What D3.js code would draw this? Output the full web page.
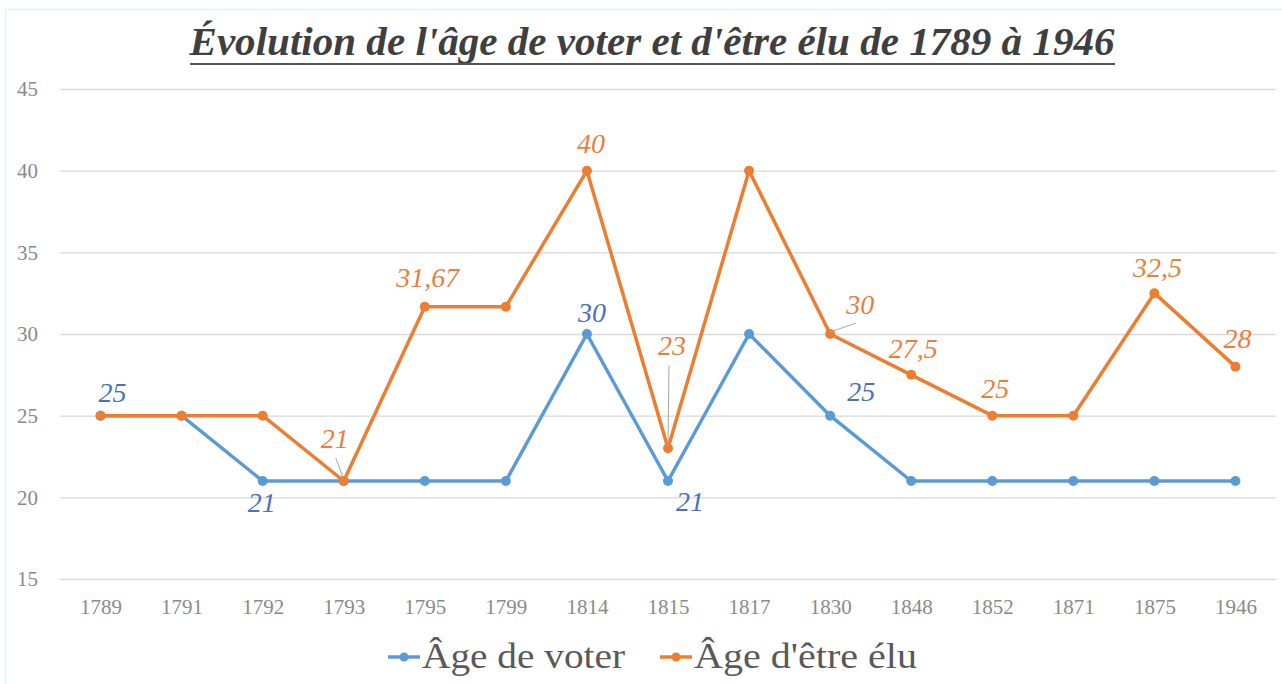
<!DOCTYPE html>
<html>
<head>
<meta charset="utf-8">
<script src="https://cdn.jsdelivr.net/npm/d3@7"></script>
<style>
	body { margin: 0; background: #fff; }
	svg { display: block; }
</style>
</head>
<body>
<div id="chart"></div>
<script>

// ------------------------ data ------------------------------

var years = ["1789", "1791", "1792", "1793", "1795", "1799", "1814", "1815", "1817", "1830", "1848", "1852", "1871", "1875", "1946"];
var ageVoter = [25, 25, 21, 21, 21, 21, 30, 21, 30, 25, 21, 21, 21, 21, 21];
var ageElu = [25, 25, 25, 21, 31.67, 31.67, 40, 23, 40, 30, 27.5, 25, 25, 32.5, 28];
var yTicks = [15, 20, 25, 30, 35, 40, 45];
var seriesNames = ["Âge de voter", "Âge d'être élu"];
var titleText = "Évolution de l'âge de voter et d'être élu de 1789 à 1946";

// which points carry a data label
var labelsVoter = ["1789", "1792", "1814", "1815", "1830"];
var labelsElu = ["1793", "1795", "1814", "1815", "1830", "1848", "1852", "1875", "1946"];


// ------------------------ layout ------------------------------

var width = 1282, height = 684;
var plot = { left: 60, right: 1276, top: 89, bottom: 579 };

var serif = "Liberation Serif, serif";
var blue = "#5b9bd5", orange = "#ed7d31";
var blueText = "#4a70c2", orangeText = "#ea7e3c";

// label offsets from the point (dx, dy of baseline) and optional leader line end
var placeVoter = {
	"1789": [12, -14], "1792": [-1, 31], "1814": [5, -12],
	"1815": [22, 30], "1830": [31, -15]
};
var placeElu = {
	"1793": [-9, -33, [-8, -23]], "1795": [3, -20], "1814": [4, -18],
	"1815": [4, -93, [1, -83]], "1830": [30, -20, [26, -11]], "1848": [2, -17],
	"1852": [3, -18], "1875": [3, -16], "1946": [2, -19]
};

var svg = d3.select("#chart").append("svg")
		.attr("width", width)
		.attr("height", height)
		.attr("viewBox", "0 0 " + width + " " + height);

// faint frame
svg.append("rect")
	.attr("x", 5.5).attr("y", 9.5)
	.attr("width", width).attr("height", height)
	.attr("fill", "none").attr("stroke", "#e3f1f7").attr("stroke-width", 1.5);

// scales
var x = d3.scalePoint()
			.domain(years)
			.range([plot.left, plot.right])
			.padding(0.5);

var y = d3.scaleLinear()
			.domain([15, 45])
			.range([plot.bottom, plot.top]);

// y axis + gridlines
var axisY = svg.append("g")
		.attr("transform", "translate(" + plot.left + ",0)")
		.call(d3.axisLeft(y).tickValues(yTicks).tickSize(-(plot.right - plot.left)).tickPadding(22));
axisY.select(".domain").remove();
axisY.selectAll(".tick line").attr("stroke", "#d9d9d9").attr("stroke-width", 1.3);
axisY.selectAll(".tick text")
		.attr("font-family", serif).attr("font-size", 21).attr("fill", "#8a8a8a");

// x axis
var axisX = svg.append("g")
		.attr("transform", "translate(0," + plot.bottom + ")")
		.call(d3.axisBottom(x).tickSize(0).tickPadding(20));
axisX.select(".domain").remove();
axisX.selectAll(".tick text")
		.attr("font-family", serif).attr("font-size", 21).attr("fill", "#8a8a8a");

// lines
var line = d3.line()
		.x(function(d) { return x(d.year); })
		.y(function(d) { return y(d.value); });

var series = [
	{ name: seriesNames[0], values: ageVoter, colour: blue, text: blueText, labels: labelsVoter, place: placeVoter },
	{ name: seriesNames[1], values: ageElu, colour: orange, text: orangeText, labels: labelsElu, place: placeElu }
];

series.forEach(function(s) {
	var pts = years.map(function(yr, i) { return { year: yr, value: s.values[i] }; });
	var g = svg.append("g");

	g.append("path")
		.datum(pts)
		.attr("d", line)
		.attr("fill", "none")
		.attr("stroke", s.colour)
		.attr("stroke-width", 3.5)
		.attr("stroke-linejoin", "round");

	g.selectAll("circle")
		.data(pts)
		.enter().append("circle")
			.attr("cx", function(d) { return x(d.year); })
			.attr("cy", function(d) { return y(d.value); })
			.attr("r", 5)
			.attr("fill", s.colour);

	var lab = pts.filter(function(d) { return s.labels.indexOf(d.year) >= 0; });

	// leader lines
	g.selectAll(".leader")
		.data(lab.filter(function(d) { return s.place[d.year][2]; }))
		.enter().append("line")
			.attr("class", "leader")
			.attr("x1", function(d) { return x(d.year); })
			.attr("y1", function(d) { return y(d.value) - 2; })
			.attr("x2", function(d) { return x(d.year) + s.place[d.year][2][0]; })
			.attr("y2", function(d) { return y(d.value) + s.place[d.year][2][1]; })
			.attr("stroke", "#a6a6a6")
			.attr("stroke-width", 1);

	g.selectAll(".lbl")
		.data(lab)
		.enter().append("text")
			.attr("class", "lbl")
			.attr("x", function(d) { return x(d.year) + s.place[d.year][0]; })
			.attr("y", function(d) { return y(d.value) + s.place[d.year][1]; })
			.attr("text-anchor", "middle")
			.attr("font-family", serif)
			.attr("font-style", "italic")
			.attr("font-size", 28)
			.attr("fill", s.text)
			.text(function(d) { return String(d.value).replace(".", ","); });
});

// title
svg.append("text")
		.attr("x", 652)
		.attr("y", 55)
		.attr("text-anchor", "middle")
		.attr("font-family", serif)
		.attr("font-style", "italic")
		.attr("font-weight", "bold")
		.attr("font-size", 39)
		.attr("fill", "#3f3f3f")
		.attr("textLength", 925)
		.attr("lengthAdjust", "spacingAndGlyphs")
		.text(titleText);
svg.append("line")
	.attr("x1", 190).attr("x2", 1115)
	.attr("y1", 64).attr("y2", 64)
	.attr("stroke", "#555").attr("stroke-width", 2);

// legend
var legendX = [388, 660];
var legendW = [203, 223];
var legend = svg.append("g").selectAll("g")
		.data(series)
		.enter().append("g")
		.attr("transform", function(d, i) { return "translate(" + legendX[i] + ",657)"; });
legend.append("line")
	.attr("x1", 0).attr("x2", 32)
	.attr("stroke", function(d) { return d.colour; })
	.attr("stroke-width", 3.5);
legend.append("circle")
	.attr("cx", 16).attr("r", 4.5)
	.attr("fill", function(d) { return d.colour; });
legend.append("text")
	.attr("x", 34)
	.attr("y", 11)
	.attr("font-family", serif)
	.attr("font-size", 36)
	.attr("fill", "#595959")
	.attr("textLength", function(d, i) { return legendW[i]; })
	.attr("lengthAdjust", "spacingAndGlyphs")
	.text(function(d) { return d.name; });

</script>
</body>
</html>
